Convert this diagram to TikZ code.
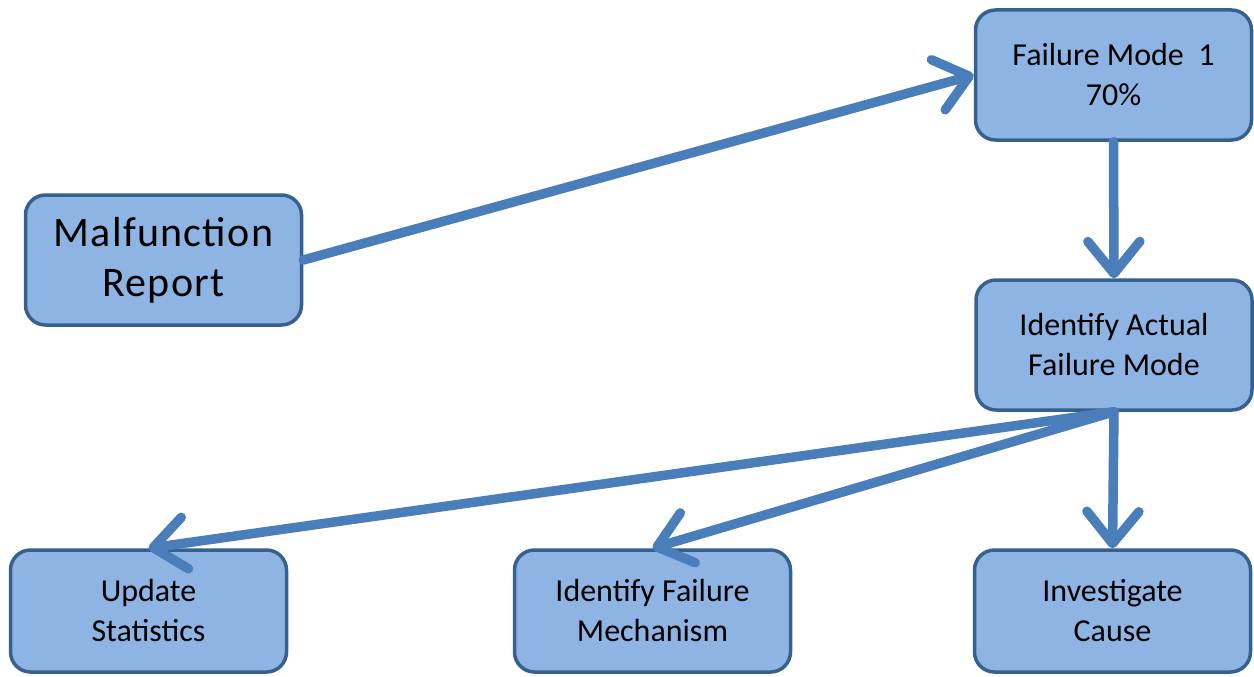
\documentclass[tikz,border=0pt]{standalone}
\usepackage{fontspec}
\setmainfont{Carlito}
\usepackage{xcolor}
\usetikzlibrary{arrows.meta, positioning}
\definecolor{boxfill}{HTML}{8EB4E3}
\definecolor{boxline}{HTML}{36618F}
\definecolor{flowblue}{HTML}{4A7EBB}

\begin{document}
\begin{tikzpicture}[x=1pt, y=-1pt,
    box/.style={draw=boxline, fill=boxfill, line width=3.5pt, rounded corners=20pt,
        minimum width=276pt, minimum height=130pt, align=center,
        font=\fontsize{32}{40}\selectfont},
    lowbox/.style={box, minimum height=122pt},
    flow/.style={draw=flowblue, line width=9.5pt, line cap=round,
        -{Straight Barb[length=32pt, width=52pt, round]}}]

            \useasboundingbox (0,0) rectangle (1254,677);

            \node[box, font=\fontsize{42}{50}\selectfont\addfontfeature{LetterSpace=3}] (report) at (163.5,260) {Malfunction\\Report};
            \node[box] (mode) at (1113.5,75) {Failure Mode~ 1\\70\%};
            \node[box] (actual) at (1114,345) {Identify Actual\\Failure Mode};
            \node[lowbox] (stats) at (148.5,611) {Update\\Statistics};
            \node[lowbox] (mech) at (652.5,611) {Identify Failure\\Mechanism};
            \node[lowbox] (cause) at (1112.5,611) {Investigate\\Cause};

            \draw[flow] (report.east) -- (mode.west);
            \draw[flow] (mode.south) -- (actual.north);
            \draw[flow] (actual.south) -- (stats.north);
            \draw[flow] (actual.south) -- (mech.north);
            \draw[flow] (actual.south) -- (cause.north);

        \end{tikzpicture}
\end{document}
